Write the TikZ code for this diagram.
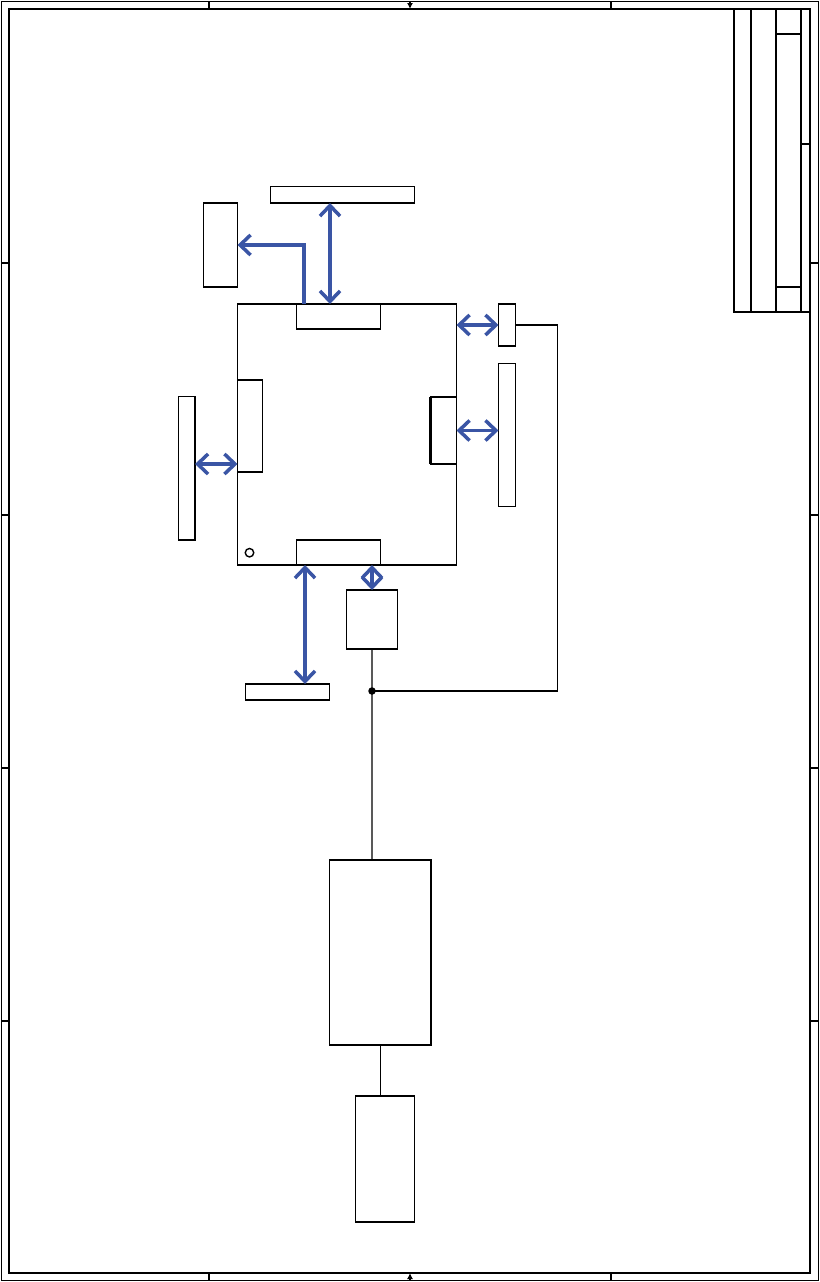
\documentclass[tikz,border=0pt]{standalone}
\usetikzlibrary{arrows.meta, fit}
\definecolor{linkblue}{HTML}{3A55A5}

\begin{document}
\begin{tikzpicture}[
    x=0.02cm, y=-0.02cm,
    box/.style={draw, line width=0.8pt, inner sep=0pt, outer sep=0pt},
    wire/.style={line width=0.8pt},
    heavy/.style={line width=1.2pt},
    link/.style={{Straight Barb[length=2.1mm, width=4mm]}-{Straight Barb[length=2.1mm, width=4mm]}, linkblue, line width=2pt},
    linkto/.style={-{Straight Barb[length=2.1mm, width=4mm]}, linkblue, line width=2pt},
]
\useasboundingbox (0,0) rectangle (820,1282);

% sheet frame and zone marks
\draw[wire] (1.5,1.5) rectangle (818.5,1280.5);
\draw[wire] (9,9) rectangle (810,1273);
\foreach \x in {209,611} {
    \draw[wire] (\x,1.5) -- (\x,9);
    \draw[wire] (\x,1273) -- (\x,1280.5);
}
\foreach \y in {263,515,768,1021} {
    \draw[wire] (1.5,\y) -- (9,\y);
    \draw[wire] (810,\y) -- (818.5,\y);
}
\draw[wire, -{Latex[length=1.2mm, width=1.2mm]}] (410,1.5) -- (410,9);
\draw[wire, -{Latex[length=1.2mm, width=1.2mm]}] (410,1280.5) -- (410,1273);

% title block
\draw[wire] (734,9) -- (734,312) -- (810,312);
\foreach \x in {751,776,801} \draw[wire] (\x,9) -- (\x,312);
\draw[wire] (776,34) -- (801,34);
\draw[wire] (776,287) -- (801,287);
\draw[wire] (801,144) -- (810,144);

% blocks
\node[box, fit={(237.5,304) (456.5,565)}] (board) {};
\node[box, fit={(296.5,304) (380.5,329)}] (conntop) {};
\node[box, fit={(296.5,540) (380.5,565)}] (connbot) {};
\node[box, fit={(237.5,380) (262.5,472)}] (connleft) {};
\node[box, fit={(430.5,397) (456.5,464)}] (connright) {};
\node[box, fit={(270.5,186.5) (414.5,203)}] (topbar) {};
\node[box, fit={(203.5,203) (237.5,287)}] (sidebox) {};
\node[box, fit={(178.5,396.5) (195,540)}] (leftbar) {};
\node[box, fit={(498.5,304) (515.5,346)}] (rsmall) {};
\node[box, fit={(498.5,363.5) (515.5,506.5)}] (rightbar) {};
\node[box, fit={(245.5,684) (329.5,700)}] (botbar) {};
\node[box, fit={(346.5,590) (397.5,649)}] (regbox) {};
\node[box, fit={(329.5,860) (431,1045)}] (supply) {};
\node[box, fit={(355.5,1096) (414.5,1222)}] (battery) {};
\draw[wire] (249.5,552.7) circle[radius=0.85mm];

\draw[heavy] (leftbar.north east) -- (leftbar.south east);
\draw[heavy] (connright.north west) -- (connright.south west);
\draw[heavy] (supply.north east) -- (supply.south east) -- (supply.south west);

% power wiring
\coordinate (jn) at (372,691);
\draw[wire] (regbox.south) -- (jn) -- (jn |- supply.north);
\draw[wire] (rsmall.east) -- ++(42,0) |- (jn);
\draw[wire] (supply.south) -- (supply.south |- battery.north);
\fill (jn) circle[radius=0.75mm];

% links
\draw[link] (conntop.north -| 330,0) -- (topbar.south -| 330,0);
\draw[linkto] (conntop.north -| 304,0) |- (sidebox.east);
\draw[link] (board.east |- rsmall.west) -- (rsmall.west);
\draw[link] (connright.east) -- (rightbar.west |- connright.east);
\draw[link] (leftbar.east |- 0,464) -- (connleft.west |- 0,464);
\draw[link] (connbot.south -| 305,0) -- (botbar.north -| 305,0);
\draw[link] (regbox.north |- board.south) -- (regbox.north);
\end{tikzpicture}
\end{document}
